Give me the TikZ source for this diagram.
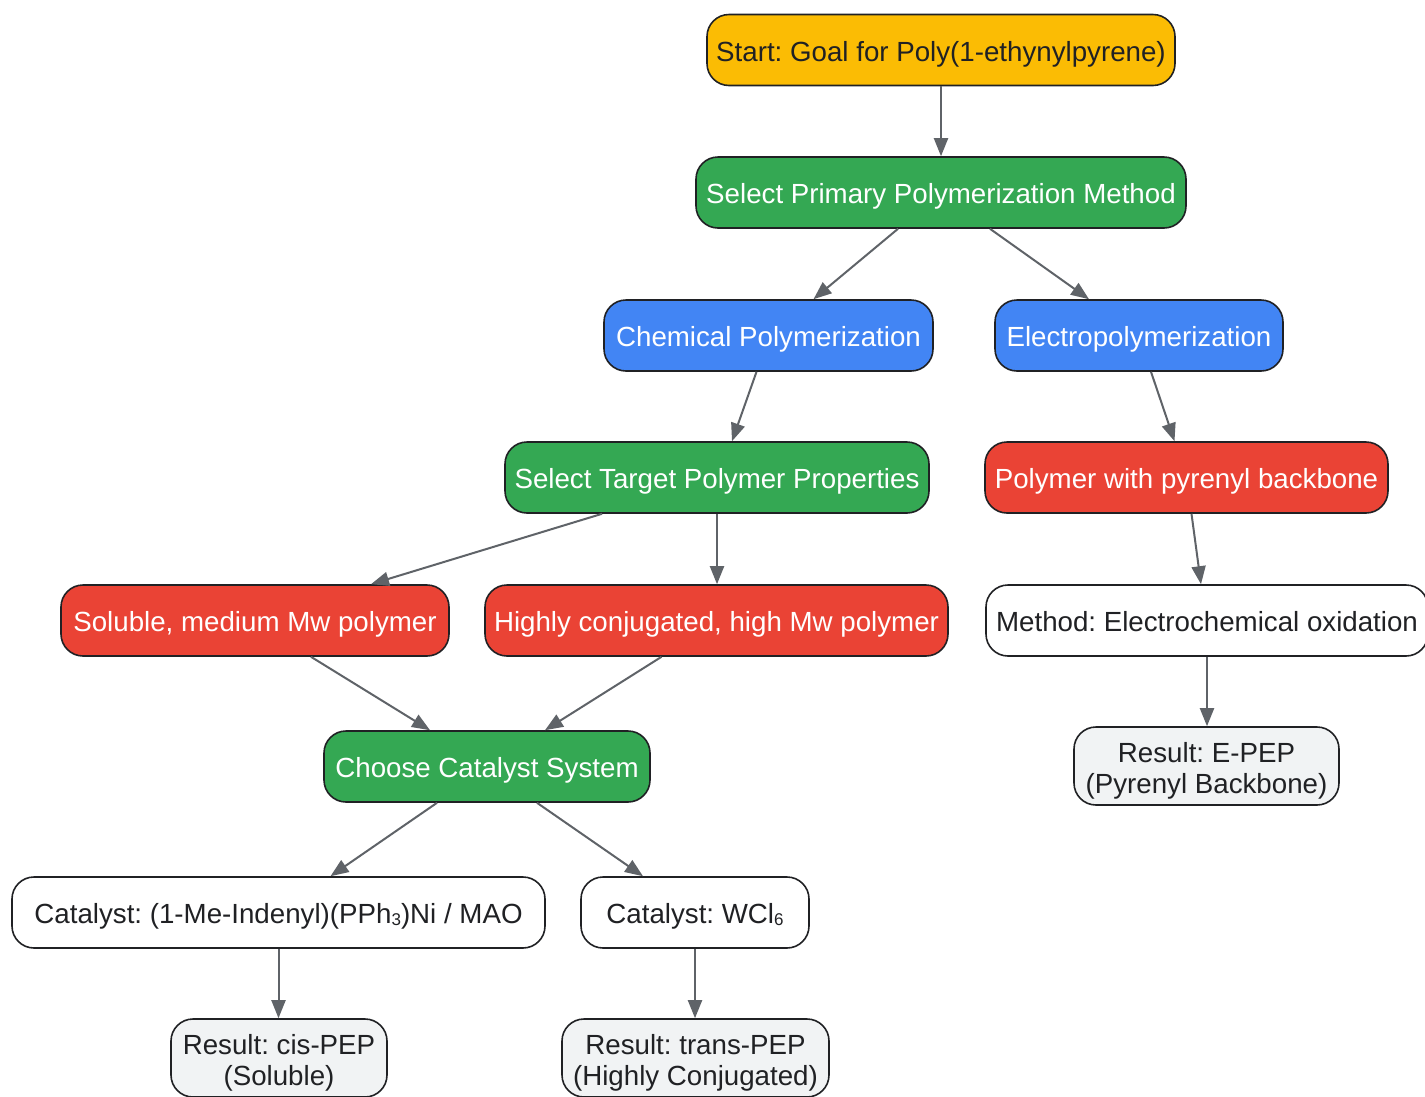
\documentclass[tikz,border=0pt]{standalone}
\usepackage{fontspec}
\setmainfont{Liberation Sans}
\usetikzlibrary{arrows.meta}
\definecolor{cyellow}{HTML}{FBBC04}
\definecolor{cgreen}{HTML}{34A853}
\definecolor{cblue}{HTML}{4285F4}
\definecolor{cred}{HTML}{EA4335}
\definecolor{cres}{HTML}{F1F3F4}
\definecolor{cedge}{HTML}{5F6368}
\definecolor{cborder}{HTML}{202124}
\newcommand{\subdig}[1]{\raisebox{-0.08em}{\fontsize{17}{17}\selectfont #1}}
\tikzset{
  box/.style={draw=cborder, line width=1.6pt, rounded corners=22pt, inner sep=0pt,
    minimum height=71pt, align=center, text height=27pt, text depth=5pt,
    font=\fontsize{27.7}{31}\selectfont\frenchspacing},
  yel/.style={box, fill=cyellow, text=cborder},
  grn/.style={box, fill=cgreen, text=white},
  blu/.style={box, fill=cblue, text=white},
  rd/.style={box, fill=cred, text=white},
  wht/.style={box, fill=white, text=cborder},
  res/.style={box, fill=cres, text=cborder, minimum height=78pt, text height=62pt, text depth=7pt},
  edge/.style={draw=cedge, line width=2pt, -{Triangle[length=18pt,width=14pt]}}
}
\begin{document}
\begin{tikzpicture}[x=1pt,y=-1pt]
\useasboundingbox (0,0) rectangle (1425,1096);
\node[yel, minimum width=468pt] (start) at (941,50) {Start: Goal for Poly(1-ethynylpyrene)};
\node[grn, minimum width=490pt] (primary) at (941,192.5) {Select Primary Polymerization Method};
\node[blu, minimum width=329pt] (chem) at (768.5,335.5) {Chemical Polymerization};
\node[blu, minimum width=288pt] (electro) at (1139,335.5) {Electropolymerization};
\node[grn, minimum width=424pt] (target) at (717,477.5) {Select Target Polymer Properties};
\node[rd, minimum width=403pt] (pyrenyl) at (1186.5,477.5) {Polymer with pyrenyl backbone};
\node[rd, minimum width=388pt] (soluble) at (255,620.5) {Soluble, medium Mw polymer};
\node[rd, minimum width=463pt] (highly) at (716.5,620.5) {Highly conjugated, high Mw polymer};
\node[wht, minimum width=442pt] (method) at (1207,620.5) {Method: Electrochemical oxidation};
\node[grn, minimum width=326pt] (catsys) at (487,766.5) {Choose Catalyst System};
\node[wht, minimum width=533pt] (cat1) at (278.5,912.5) {Catalyst: (1-Me-Indenyl)(PPh\subdig{3})Ni / MAO};
\node[wht, minimum width=228pt] (cat2) at (695,912.5) {Catalyst: WCl\subdig{6}};
\node[res, minimum width=216pt] (res1) at (279,1058) {Result: cis-PEP\\(Soluble)};
\node[res, minimum width=267pt] (res2) at (695.5,1058) {Result: trans-PEP\\(Highly Conjugated)};
\node[res, minimum width=265pt] (resE) at (1206.5,766) {Result: E-PEP\\(Pyrenyl Backbone)};

\draw[edge] (start.south) -- (primary.north);
\draw[edge] ([xshift=-43pt]primary.south) -- ([xshift=45pt]chem.north);
\draw[edge] ([xshift=49pt]primary.south) -- ([xshift=-50pt]electro.north);
\draw[edge] ([xshift=-12pt]chem.south) -- ([xshift=15pt]target.north);
\draw[edge] ([xshift=12pt]electro.south) -- ([xshift=-12pt]pyrenyl.north);
\draw[edge] ([xshift=-115pt]target.south) -- ([xshift=116pt]soluble.north);
\draw[edge] (target.south) -- (target.south |- highly.north);
\draw[edge] ([xshift=5pt]pyrenyl.south) -- ([xshift=-6pt]method.north);
\draw[edge] ([xshift=56pt]soluble.south) -- ([xshift=-57pt]catsys.north);
\draw[edge] ([xshift=-55pt]highly.south) -- ([xshift=58pt]catsys.north);
\draw[edge] ([xshift=-50pt]catsys.south) -- ([xshift=52pt]cat1.north);
\draw[edge] ([xshift=50pt]catsys.south) -- ([xshift=-52pt]cat2.north);
\draw[edge] (cat1.south) -- (cat1.south |- res1.north);
\draw[edge] (cat2.south) -- (cat2.south |- res2.north);
\draw[edge] (method.south) -- (method.south |- resE.north);
\end{tikzpicture}
\end{document}
